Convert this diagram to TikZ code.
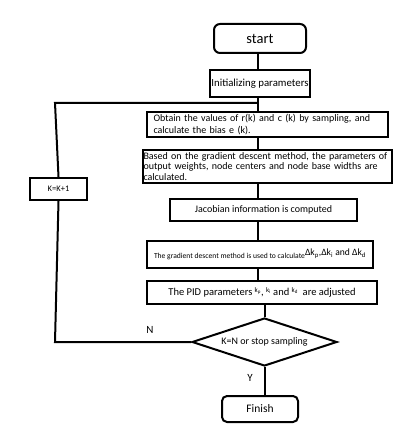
\documentclass[tikz,border=0pt]{standalone}
\usepackage{fontspec}
\setmainfont{Carlito}
\usetikzlibrary{shapes.geometric}
\tikzset{
    %Define style for start and end
    terminal/.style={
           rectangle,
           rounded corners=6pt,
           draw=black, line width=2pt,
           inner sep=1pt,
           font=\fontsize{14.5}{16}\selectfont,
           text centered},
    %Define style for boxes
    process/.style={
           rectangle,
           draw=black, line width=2pt,
           inner sep=1pt,
           font=\fontsize{10}{12}\selectfont,
           text centered},
    %Define style for the test
    decision/.style={
           diamond,
           draw=black, line width=2pt,
           inner sep=0pt, aspect=3,
           font=\fontsize{10}{12}\selectfont,
           text centered},
    % Define line style
    pil/.style={
           line width=2pt},
    lbl/.style={
           font=\fontsize{11}{13}\selectfont}
}
\begin{document}
\begin{tikzpicture}[x=1pt,y=-1pt]
\useasboundingbox (0,0) rectangle (419,443);

 %nodes
\node[terminal, minimum width=92pt, minimum height=29pt] (start) at (260,38.5) {start};
\node[process, minimum width=100pt, minimum height=27pt, font=\fontsize{10.8}{12}\selectfont] (init) at (260,83.5) {Initializing parameters};
\node[process, minimum width=241pt, minimum height=25pt, text width=228pt, align=left] (obtain) at (267.5,124.5)
  {Obtain the values of r(k) and c (k) by sampling, and\\calculate the bias e (k).};
\node[process, minimum width=249pt, minimum height=33pt, text width=248pt, align=left, inner sep=0.5pt, font=\fontsize{10}{10.8}\selectfont] (based) at (267.5,166.5)
  {Based on the gradient descent method, the parameters of\\output weights, node centers and node base widths are\\calculated.};
\node[process, minimum width=187pt, minimum height=22pt] (jacob) at (263.5,210) {Jacobian information is computed};
\node[process, minimum width=226pt, minimum height=27pt, inner sep=0pt, font=\fontsize{7.6}{9}\selectfont] (grad) at (260,254.5)
  {The gradient descent method is used to calculate\raisebox{2.5pt}{\fontsize{9.6}{11}\selectfont Δk\textsubscript{p},Δk\textsubscript{i} and Δk\textsubscript{d}}};
\node[process, minimum width=230pt, minimum height=23pt, font=\fontsize{10.5}{12}\selectfont] (pid) at (262,292.5)
  {The PID parameters \raisebox{3pt}{\fontsize{7}{8}\selectfont k\textsubscript{p}}, \raisebox{3pt}{\fontsize{7}{8}\selectfont k\textsubscript{i}} and \raisebox{3pt}{\fontsize{7}{8}\selectfont k\textsubscript{d}}\ \ are adjusted};
\node[decision, minimum width=145pt, minimum height=48pt] (test) at (264.5,342) {K=N or stop sampling};
\node[terminal, minimum width=76pt, minimum height=26pt, rounded corners=5pt, font=\fontsize{11.5}{13}\selectfont] (finish) at (260,409) {Finish};
\node[process, minimum width=57pt, minimum height=22pt, font=\fontsize{8.5}{10}\selectfont] (inc) at (58.5,189) {K=K+1};

\coordinate (col) at (258,0);
\coordinate (down) at (55,342);
\coordinate (up) at (55,103);
\coordinate (join) at (258,103);

 %connectors
\draw[pil] (start.south -| col) -- (init.north -| col);
\draw[pil] (init.south -| col) -- (obtain.north -| col);
\draw[pil] (obtain.south -| col) -- (based.north -| col);
\draw[pil] (based.south -| col) -- (jacob.north -| col);
\draw[pil] (jacob.south -| col) -- (grad.north -| col);
\draw[pil] (grad.south -| col) -- (pid.north -| col);
\draw[pil] (pid.south -| test) -- (test.north);
\draw[pil] (test.south) -- (finish.north -| test);
\draw[pil] (test.west) -- (down) -- (inc.south);
\draw[pil] (inc.north) -- (up) -- (join);

\node[lbl] (n) at (150,330) {N};
\node[lbl] (y) at (250,378) {Y};
\end{tikzpicture}
\end{document}
